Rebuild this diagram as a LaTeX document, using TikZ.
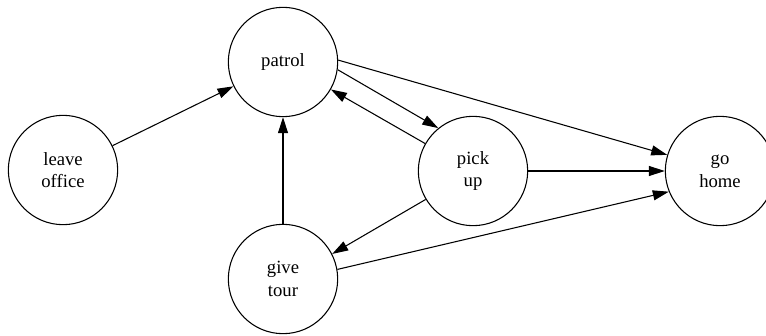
\documentclass[tikz,border=0pt]{standalone}
\usepackage{fontspec}
\setmainfont{Liberation Serif}
\usetikzlibrary{arrows.meta}
\begin{document}
\begin{tikzpicture}[x=0.75pt,y=-0.75pt,
  state/.style={circle,draw,line width=0.8pt,minimum size=82pt,inner sep=0pt,
    align=center,font=\fontsize{14}{17}\selectfont},
  edge/.style={line width=0.8pt,-{Triangle[length=12pt,width=7.5pt]}}]
\useasboundingbox (0,0) rectangle (766,335);
\clip (0,0) rectangle (766,335);
\node[state] (patrol) at (283,62) {patrol};
\node[state] (leave) at (63,170) {leave\\office};
\node[state] (tour) at (283,279) {give\\tour};
\node[state] (pick) at (473,171) {pick\\up};
\node[state] (home) at (720,171) {go\\home};
\draw[edge] (leave) -- (patrol);
\draw[edge] (tour) -- (patrol);
\draw[edge] (patrol.-8) -- (pick.129);
\draw[edge] (pick) -- (patrol);
\draw[edge] (patrol.2) -- (home.163);
\draw[edge] (pick) -- (home);
\draw[edge] (pick.211) -- (tour.27);
\draw[edge] (tour.10) -- (home.202);
\end{tikzpicture}
\end{document}
